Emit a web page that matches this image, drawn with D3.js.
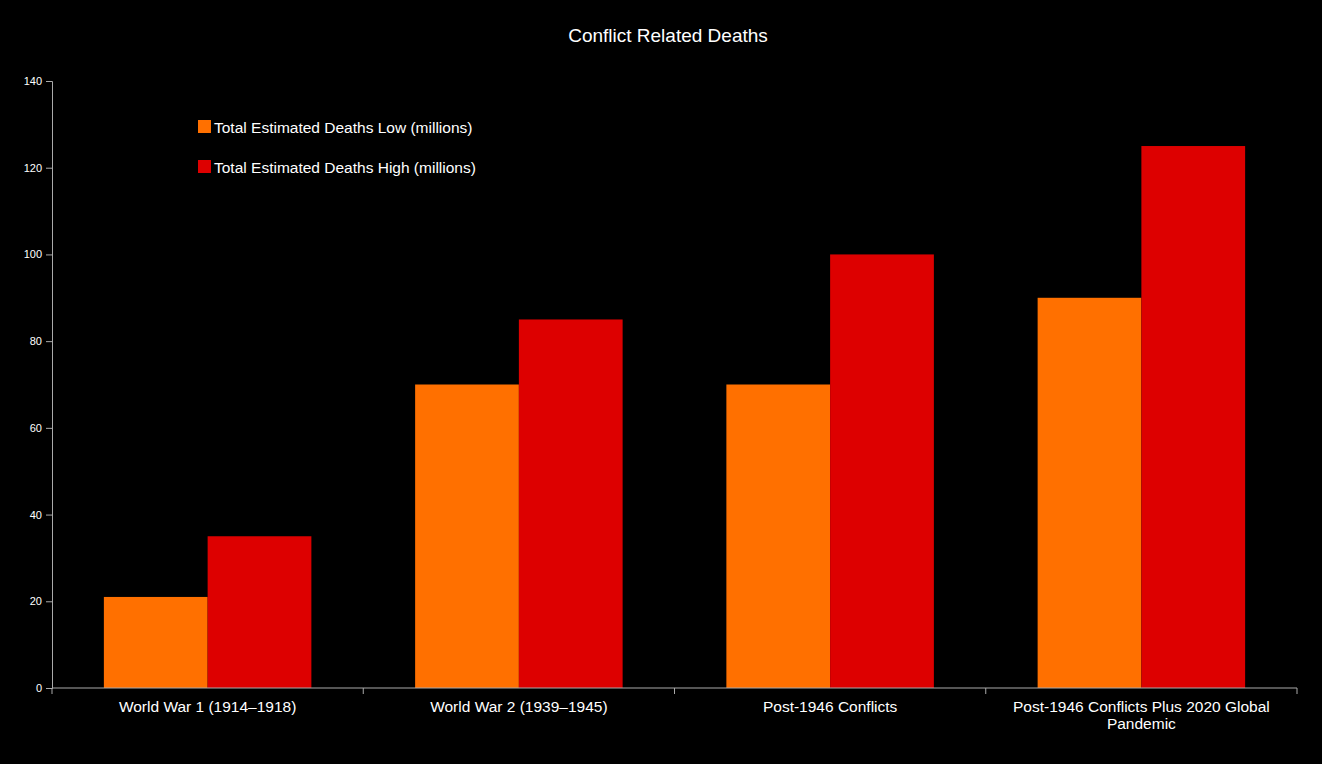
<!DOCTYPE html>
<html><head><meta charset="utf-8">
<script src="https://cdn.jsdelivr.net/npm/d3@7"></script>
<style>
html,body{margin:0;padding:0;background:#000;}
svg{display:block;font-family:"Liberation Sans",Arial,sans-serif;}
</style></head>
<body>
<svg id="chart" width="1322" height="764"></svg>
<script>
const categories = [["World War 1 (1914\u20131918)"],["World War 2 (1939\u20131945)"],["Post-1946 Conflicts"],["Post-1946 Conflicts Plus 2020 Global","Pandemic"]];
const seriesNames = ["Total Estimated Deaths Low (millions)","Total Estimated Deaths High (millions)"];
const lowValues = [21, 70, 70, 90];
const highValues = [35, 85, 100, 125];
const yTicks = [0,20,40,60,80,100,120,140];
const colors = ["#ff7000","#dd0000"];

const svg = d3.select("#chart");
const m = {left:52, right:25, top:81, bottom:76};
const W = 1322, H = 764;
const x0 = d3.scaleBand().domain(d3.range(categories.length)).range([m.left, W - m.right]).padding(0);
const bw = x0.bandwidth();
const x1 = d3.scaleBand().domain([0,1]).range([bw/6, bw*5/6]).padding(0);
const y = d3.scaleLinear().domain([0,140]).range([H - m.bottom, m.top]);

svg.append("text").attr("x", W/2 + 7).attr("y", 42).attr("text-anchor","middle")
  .attr("fill","#fff").attr("font-size", 19).text("Conflict Related Deaths");

const data = categories.map((c,i)=>({i, vals:[lowValues[i], highValues[i]]}));
const g = svg.append("g");
g.selectAll("g.grp").data(data).join("g").attr("class","grp")
  .attr("transform", d=>`translate(${x0(d.i)},0)`)
  .selectAll("rect").data(d=>d.vals.map((v,k)=>({v,k}))).join("rect")
  .attr("x", d=>x1(d.k)).attr("width", x1.bandwidth())
  .attr("y", d=>y(d.v)).attr("height", d=>y(0)-y(d.v))
  .attr("fill", d=>colors[d.k]);

// y axis
const ya = svg.append("g").attr("transform",`translate(${m.left},0)`)
  .call(d3.axisLeft(y).tickValues(yTicks).tickSize(6).tickPadding(4));
ya.select(".domain").attr("stroke","#aaa");
ya.selectAll(".tick line").attr("stroke","#aaa");
ya.selectAll(".tick text").attr("fill","#fff").attr("font-size",11).attr("font-family","Liberation Sans, Arial, sans-serif");

// x axis
const xa = svg.append("g").attr("transform",`translate(0,${y(0)})`);
xa.append("line").attr("x1", m.left).attr("x2", W - m.right).attr("stroke","#aaa");
const bounds = d3.range(categories.length+1).map(i => m.left + i*bw);
xa.selectAll("line.tk").data(bounds).join("line").attr("class","tk")
  .attr("x1",d=>d).attr("x2",d=>d).attr("y1",0).attr("y2",6).attr("stroke","#aaa");
xa.selectAll("text.lbl").data(categories).join("text").attr("class","lbl")
  .attr("x",(d,i)=>x0(i)+bw/2).attr("y",24).attr("text-anchor","middle")
  .attr("fill","#fff").attr("font-size",15.5)
  .each(function(d){
    const t = d3.select(this);
    d.forEach((line,li)=>t.append("tspan").attr("x", t.attr("x")).attr("dy", li===0?0:17).text(line));
  });

// legend
const lg = svg.append("g").attr("transform","translate(198,120)");
seriesNames.forEach((n,k)=>{
  const r = lg.append("g").attr("transform",`translate(0,${k*40})`);
  r.append("rect").attr("width",13).attr("height",13).attr("fill",colors[k]);
  r.append("text").attr("x",16).attr("y",13).attr("fill","#fff").attr("font-size",15.5).text(n);
});
</script>
</body></html>
